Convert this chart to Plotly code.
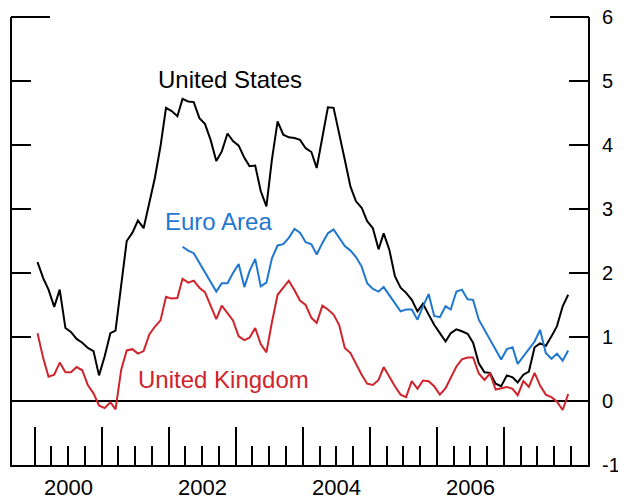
import pandas as pd
import plotly.graph_objects as go

# Monthly observations, Jan 2000 - Dec 2007 (plotted at mid-month)
months = pd.date_range("2000-01-01", periods=96, freq="MS") + pd.Timedelta(days=15)

us = [2.17, 1.92, 1.74, 1.47, 1.74, 1.14, 1.08, 0.97, 0.91, 0.83,
      0.78, 0.40, 0.70, 1.06, 1.10, 1.84, 2.50, 2.63, 2.82, 2.70,
      3.09, 3.48, 3.98, 4.58, 4.53, 4.45, 4.72, 4.68, 4.67, 4.42,
      4.33, 4.08, 3.75, 3.90, 4.18, 4.06, 3.99, 3.80, 3.67, 3.68,
      3.28, 3.04, 3.77, 4.37, 4.16, 4.12, 4.11, 4.08, 3.95, 3.89,
      3.64, 4.11, 4.59, 4.58, 4.20, 3.77, 3.35, 3.12, 3.02, 2.81,
      2.70, 2.37, 2.62, 2.36, 1.95, 1.77, 1.69, 1.58, 1.40, 1.52,
      1.35, 1.19, 1.06, 0.93, 1.06, 1.12, 1.09, 1.05, 0.91, 0.59,
      0.45, 0.44, 0.27, 0.23, 0.40, 0.37, 0.29, 0.41, 0.46, 0.84,
      0.90, 0.86, 1.01, 1.17, 1.48, 1.66]

# Euro Area starts Mar 2002 (index 26)
euro_start = 26
euro = [2.41, 2.35, 2.31, 2.16,
        2.03, 1.87, 1.71, 1.84, 1.84, 2.00, 2.14, 1.78, 2.03, 2.22,
        1.79, 1.85, 2.23, 2.43, 2.45, 2.55, 2.69, 2.63, 2.48, 2.45,
        2.29, 2.47, 2.62, 2.68, 2.55, 2.42, 2.35, 2.25, 2.10, 1.84,
        1.75, 1.71, 1.78, 1.66, 1.53, 1.40, 1.43, 1.43, 1.27, 1.48,
        1.67, 1.33, 1.31, 1.48, 1.43, 1.71, 1.74, 1.59, 1.58, 1.27,
        1.11, 0.96, 0.79, 0.65, 0.81, 0.84, 0.58, 0.70, 0.81, 0.93,
        1.11, 0.75, 0.66, 0.74, 0.63, 0.79]

uk = [1.06, 0.67, 0.38, 0.41, 0.60, 0.45, 0.45, 0.53, 0.48, 0.25,
      0.12, -0.07, -0.11, -0.02, -0.13, 0.49, 0.79, 0.81, 0.74, 0.78,
      1.04, 1.16, 1.26, 1.63, 1.60, 1.61, 1.91, 1.85, 1.88, 1.77,
      1.70, 1.49, 1.28, 1.49, 1.38, 1.26, 1.01, 0.95, 0.99, 1.14,
      0.89, 0.76, 1.23, 1.66, 1.77, 1.88, 1.73, 1.57, 1.50, 1.30,
      1.22, 1.49, 1.43, 1.35, 1.19, 0.83, 0.75, 0.57, 0.41, 0.27,
      0.25, 0.33, 0.53, 0.38, 0.23, 0.10, 0.06, 0.31, 0.19, 0.32,
      0.31, 0.23, 0.10, 0.20, 0.36, 0.54, 0.65, 0.68, 0.68, 0.43,
      0.33, 0.43, 0.18, 0.20, 0.22, 0.19, 0.09, 0.31, 0.22, 0.44,
      0.24, 0.10, 0.06, -0.01, -0.14, 0.11]

year_labels = ["2000", "2002", "2004", "2006"]
y_ticks = [-1, 0, 1, 2, 3, 4, 5, 6]
series_labels = ["United States", "Euro Area", "United Kingdom"]

BLACK = "#000000"
BLUE = "#1f77d0"
RED = "#d0232b"
FONT = "Liberation Sans, Arial, sans-serif"

fig = go.Figure()
fig.add_trace(go.Scatter(x=months, y=us, mode="lines",
                         line=dict(color=BLACK, width=2), showlegend=False))
fig.add_trace(go.Scatter(x=months[euro_start:], y=euro, mode="lines",
                         line=dict(color=BLUE, width=2), showlegend=False))
fig.add_trace(go.Scatter(x=months, y=uk, mode="lines", yaxis="y2",
                         line=dict(color=RED, width=2), showlegend=False))

year_starts = [pd.Timestamp(f"{y}-01-01") for y in range(2000, 2008)]
quarters = [d for d in pd.date_range("2000-04-01", "2008-01-01", freq="QS")
            if d.month != 1 or d.year == 2008]

# The page body keeps an 8px margin, so the figure is 8px smaller than the window
fig.update_layout(
    width=618, height=493,
    margin=dict(l=4, r=38, t=9, b=36, autoexpand=False),
    paper_bgcolor="white", plot_bgcolor="white",
    font=dict(family=FONT, color=BLACK),
    xaxis=dict(
        type="date", range=["1999-08-30", "2008-04-02"], automargin=False,
        showline=True, linecolor=BLACK, linewidth=2, mirror=False,
        showgrid=False, zeroline=False,
        tickmode="array", tickvals=year_starts, ticks="inside",
        ticklen=38, tickwidth=1.5, tickcolor=BLACK, showticklabels=False,
        minor=dict(tickmode="array", tickvals=quarters, ticks="inside",
                   ticklen=19, tickwidth=1.5, tickcolor=BLACK, showgrid=False),
    ),
    yaxis=dict(
        range=[-1, 6], side="left", automargin=False,
        showline=True, linecolor=BLACK, linewidth=2,
        showgrid=False, zeroline=True, zerolinecolor=BLACK, zerolinewidth=2,
        tickmode="array", tickvals=[1, 2, 3, 4, 5], ticks="inside", ticklen=19,
        tickwidth=1.5, tickcolor=BLACK, showticklabels=False,
    ),
    yaxis2=dict(
        range=[-1, 6], side="right", overlaying="y", automargin=False,
        showline=True, linecolor=BLACK, linewidth=2,
        showgrid=False, zeroline=False,
        tickmode="array", tickvals=y_ticks, ticktext=[str(v) for v in y_ticks],
        ticks="inside", ticklen=19, tickwidth=1.5, tickcolor=BLACK,
        tickfont=dict(size=20, family=FONT, color=BLACK),
        ticklabelstandoff=8, ticklabeloverflow="allow",
    ),
    shapes=[
        # long top ticks at 6 on both vertical axes
        dict(type="line", xref="paper", yref="paper", xsizemode="pixel", xanchor=0,
             x0=-1, x1=38, y0=1, y1=1, line=dict(color=BLACK, width=2)),
        dict(type="line", xref="paper", yref="paper", xsizemode="pixel", xanchor=1,
             x0=-38, x1=1, y0=1, y1=1, line=dict(color=BLACK, width=2)),
    ],
)

annotations = []
for lab in year_labels:
    annotations.append(dict(
        x=pd.Timestamp(f"{lab}-07-02"), xref="x", y=0, yref="paper",
        text=lab, showarrow=False, xanchor="center", yanchor="top", yshift=-8,
        font=dict(size=22, family=FONT, color=BLACK)))

label_pos = [("2002-11-28", 5.02, BLACK), ("2002-09-26", 2.81, BLUE), ("2002-10-26", 0.33, RED)]
for lab, (xd, yv, col) in zip(series_labels, label_pos):
    annotations.append(dict(
        x=pd.Timestamp(xd), xref="x", y=yv, yref="y", text=lab, showarrow=False,
        xanchor="center", yanchor="middle",
        font=dict(size=24, family=FONT, color=col)))

fig.update_layout(annotations=annotations)
fig.write_html("out.html")
